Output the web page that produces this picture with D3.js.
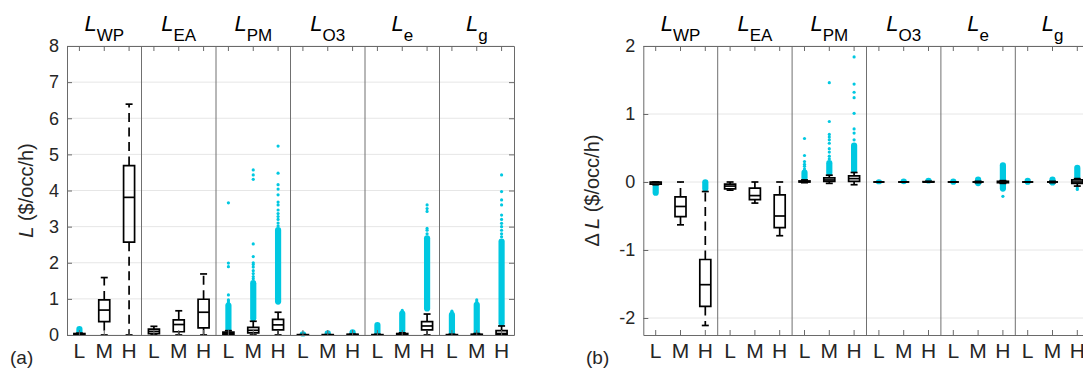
<!DOCTYPE html>
<html><head><meta charset="utf-8">
<script src="https://cdn.jsdelivr.net/npm/d3@7"></script>
<style>
body{margin:0;background:#fff;}
svg{display:block;font-family:"Liberation Sans",Arial,Helvetica,sans-serif;}
</style></head><body>
<svg id="chart" width="1083" height="371"></svg>
<script>
const groups = ["WP","EA","PM","O3","e","g"];
const levels = ["L","M","H"];
const ticksA = [0,1,2,3,4,5,6,7,8];
const ticksB = [-2,-1,0,1,2];

// Panel (a): L ($/occ/h); order WP-L, WP-M, WP-H, EA-L, ... g-H
const aQ1  = [0, 0.37, 2.57, 0.04, 0.09, 0.20, 0.01, 0.06, 0.14, 0, 0, 0, 0, 0, 0.14, 0, 0, 0.01];
const aMed = [0.02, 0.69, 3.81, 0.10, 0.29, 0.63, 0.05, 0.13, 0.28, 0, 0, 0.01, 0, 0.01, 0.25, 0, 0.01, 0.04];
const aQ3  = [0.04, 0.97, 4.69, 0.16, 0.42, 0.99, 0.08, 0.21, 0.43, 0.01, 0.01, 0.02, 0.01, 0.04, 0.37, 0.01, 0.02, 0.12];
const aLo  = [0, 0, 0, 0, 0, 0, 0, 0, 0, 0, 0, 0, 0, 0, 0, 0, 0, 0];
const aHi  = [0.05, 1.59, 6.39, 0.24, 0.67, 1.69, 0.12, 0.38, 0.63, 0.01, 0.01, 0.02, 0.02, 0.06, 0.58, 0.02, 0.04, 0.25];
const aDenseLo = [0.06, null, null, null, null, null, 0.13, 0.42, 0.88, 0.02, 0.02, 0.03, 0.03, 0.07, 0.69, 0.03, 0.05, 0.28];
const aDenseHi = [0.21, null, null, null, null, null, 0.86, 1.48, 2.95, 0.06, 0.09, 0.12, 0.32, 0.64, 2.72, 0.60, 0.88, 2.63];
const aOut = [[],[],[],[],[],[],
  [0.90,0.94,0.97,1.11,1.89,1.99,3.66],
  [1.56,1.62,1.70,1.78,1.88,1.95,2.00,2.17,2.52,4.31,4.43,4.57],
  [3.02,3.10,3.20,3.28,3.36,3.46,3.60,3.68,3.88,4.04,4.16,4.48,5.23],
  [],[],[],
  [],[0.68],[2.80,2.90,2.95,3.42,3.50,3.60],
  [0.63,0.66],[0.92,0.97],[2.72,2.80,2.90,3.00,3.09,3.20,3.32,3.60,3.74,3.97,4.43]];

// Panel (b): ΔL ($/occ/h)
const bQ1  = [-0.03, -0.51, -1.83, -0.10, -0.26, -0.67, 0, 0.01, 0.01, 0, 0, 0, 0, 0, -0.01, 0, 0, -0.02];
const bMed = [-0.01, -0.36, -1.51, -0.06, -0.20, -0.50, 0.005, 0.03, 0.05, 0, 0, 0, 0, 0, 0, 0, 0, 0];
const bQ3  = [0, -0.22, -1.14, -0.03, -0.09, -0.19, 0.015, 0.06, 0.09, 0, 0, 0.005, 0, 0, 0.01, 0, 0, 0.03];
const bLo  = [-0.04, -0.63, -2.11, -0.12, -0.31, -0.79, -0.01, -0.02, -0.04, 0, 0, 0, 0, -0.01, -0.02, 0, -0.01, -0.06];
const bHi  = [0, 0, -0.14, 0, 0, 0, 0.03, 0.10, 0.14, 0, 0, 0.01, 0, 0.01, 0.02, 0, 0.01, 0.05];
const bDenseLo = [-0.18, null, -0.12, null, null, null, 0.04, 0.11, 0.15, -0.01, -0.01, 0, -0.02, -0.04, -0.12, -0.02, -0.03, 0.06];
const bDenseHi = [-0.05, null, 0.02, null, null, null, 0.16, 0.30, 0.56, 0.02, 0.03, 0.04, 0.03, 0.06, 0.27, 0.04, 0.06, 0.23];
const bOut = [[],[],[],[],[],[],
  [0.19,0.23,0.26,0.30,0.39,0.64],
  [0.34,0.38,0.44,0.49,0.57,0.62,0.66,0.70,0.89,1.46],
  [0.62,0.72,0.78,1.01,1.24,1.32,1.44,1.84],
  [],[],[],
  [],[],[-0.21],
  [],[],[-0.09,-0.11]];

const CYAN = "#00c8e1";
const AX = "#6a6a6a";
const TXT = "#262626";
const svg = d3.select("#chart");
const keys = groups.flatMap(g => levels.map(l => g + "-" + l));

function panel(o) {
  const top = 46, bot = 335;
  const y = d3.scaleLinear().domain(o.yDomain).range([bot, top]);
  const x = d3.scaleBand().domain(keys).range([o.x0, o.x1]);
  const bw = x.bandwidth();
  const cx = k => x(k) + bw / 2;
  const g = svg.append("g");

  // gridlines
  g.selectAll("line.grid").data(o.ticks).join("line")
    .attr("x1", o.x0).attr("x2", o.x1)
    .attr("y1", d => y(d)).attr("y2", d => y(d))
    .attr("stroke", "#e6e6e6").attr("stroke-width", 1);

  // group separators
  g.selectAll("line.sep").data(groups.slice(1)).join("line")
    .attr("x1", d => x(d + "-L")).attr("x2", d => x(d + "-L"))
    .attr("y1", top).attr("y2", bot)
    .attr("stroke", "#707070").attr("stroke-width", 1);

  // dense outlier clouds
  const r = 3.1;
  keys.forEach((k, i) => {
    if (o.dLo[i] === null) return;
    const yt = y(o.dHi[i]) - 1.5, yb = y(o.dLo[i]) + 1.5;
    g.append("rect").attr("x", cx(k) - r).attr("width", 2 * r)
      .attr("y", yt).attr("height", Math.max(yb - yt, 2 * r - 1)).attr("rx", r)
      .attr("fill", CYAN);
  });
  // isolated outliers
  keys.forEach((k, i) => {
    g.selectAll(null).data(o.out[i]).join("circle")
      .attr("cx", cx(k)).attr("cy", d => y(d)).attr("r", 1.6).attr("fill", CYAN);
  });

  // boxes and whiskers
  const hw = 5.5, cw = 3.5;
  keys.forEach((k, i) => {
    const c = cx(k);
    const yq1 = y(o.q1[i]), yq3 = y(o.q3[i]), ylo = y(o.lo[i]), yhi = y(o.hi[i]);
    if (yq3 - yhi > 0.5)
      g.append("line").attr("x1", c).attr("x2", c).attr("y1", yq3).attr("y2", yhi)
        .attr("stroke", "#000").attr("stroke-width", 1.7).attr("stroke-dasharray", "9,5.5");
    if (ylo - yq1 > 0.5)
      g.append("line").attr("x1", c).attr("x2", c).attr("y1", yq1).attr("y2", ylo)
        .attr("stroke", "#000").attr("stroke-width", 1.7).attr("stroke-dasharray", "9,5.5");
    [yhi, ylo].forEach(yy => g.append("line").attr("x1", c - cw).attr("x2", c + cw)
      .attr("y1", yy).attr("y2", yy).attr("stroke", "#000").attr("stroke-width", 1.7));
    g.append("path")
      .attr("d", `M${c - hw},${yq3}H${c + hw}V${yq1}H${c - hw}Z`)
      .attr("fill", "none").attr("stroke", "#000").attr("stroke-width", 1.7);
    g.append("line").attr("x1", c - hw).attr("x2", c + hw)
      .attr("y1", y(o.med[i])).attr("y2", y(o.med[i]))
      .attr("stroke", "#000").attr("stroke-width", 1.7);
  });

  // axes
  const style = sel => {
    sel.attr("font-family", null).attr("font-size", null);
    sel.selectAll(".domain").attr("stroke", AX).attr("stroke-width", 1);
    sel.selectAll(".tick line").attr("stroke", AX).attr("stroke-width", 1);
    sel.selectAll(".tick text").attr("fill", TXT);
  };
  g.append("g").attr("transform", `translate(${o.x0},0)`)
    .call(d3.axisLeft(y).tickValues(o.ticks).tickSizeInner(-5).tickSizeOuter(0).tickPadding(8).tickFormat(d => String(d)))
    .call(style).style("font-size", "18px");
  g.append("g").attr("transform", `translate(${o.x1},0)`)
    .call(d3.axisRight(y).tickValues(o.ticks).tickSizeInner(-5).tickSizeOuter(0).tickFormat(""))
    .call(style);
  g.append("g").attr("transform", `translate(0,${top})`)
    .call(d3.axisTop(x).tickSizeInner(-5).tickSizeOuter(0).tickFormat(""))
    .call(style);
  g.append("g").attr("transform", `translate(0,${bot})`)
    .call(d3.axisBottom(x).tickSizeInner(-5).tickSizeOuter(0).tickPadding(8).tickFormat(k => k.split("-")[1]))
    .call(style).style("font-size", "21px");

  // group titles
  groups.forEach(gr => {
    const t = g.append("text").attr("x", cx(gr + "-M")).attr("y", 31)
      .attr("text-anchor", "middle").attr("fill", "#000");
    t.append("tspan").attr("font-style", "italic").attr("font-size", 22).text("L");
    t.append("tspan").attr("font-size", 17).attr("dy", 9.7).text(gr);
  });

  // y label
  const yl = g.append("text").attr("transform", `translate(${o.labelX},${(top + bot) / 2}) rotate(-90)`)
    .attr("text-anchor", "middle").attr("font-size", 20).attr("fill", TXT);
  if (o.delta) yl.append("tspan").text("\u0394\u2009");
  yl.append("tspan").attr("font-style", "italic").text("L");
  yl.append("tspan").text(" ($/occ/h)");

  // panel tag
  g.append("text").attr("x", o.tagX).attr("y", 364).attr("font-size", 19).attr("fill", TXT).text(o.tag);
}

panel({x0: 67, x1: 514, yDomain: [0, 8], ticks: ticksA,
  q1: aQ1, med: aMed, q3: aQ3, lo: aLo, hi: aHi, dLo: aDenseLo, dHi: aDenseHi, out: aOut,
  labelX: 33, delta: false, tag: "(a)", tagX: 10});
panel({x0: 643.3, x1: 1089.7, yDomain: [-2.25, 2], ticks: ticksB,
  q1: bQ1, med: bMed, q3: bQ3, lo: bLo, hi: bHi, dLo: bDenseLo, dHi: bDenseHi, out: bOut,
  labelX: 599, delta: true, tag: "(b)", tagX: 586});
</script>
</body></html>
